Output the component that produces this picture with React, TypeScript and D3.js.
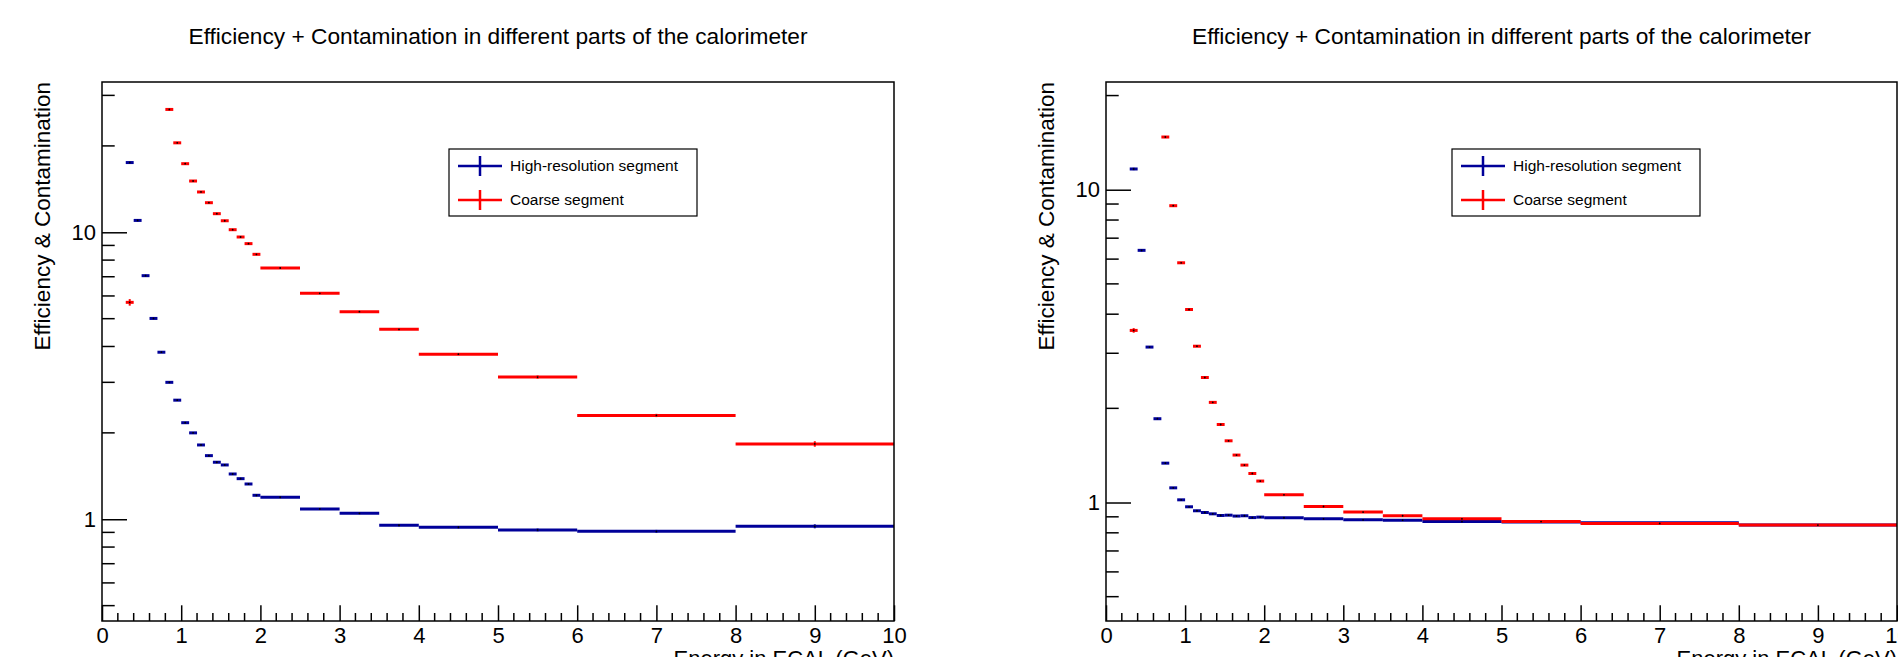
import * as d3 from "d3";
import React, { useEffect, useRef } from "react";

// bin edges shared by every histogram (GeV)
const binEdges = [
  0.3, 0.4, 0.5, 0.6, 0.7, 0.8, 0.9, 1.0, 1.1, 1.2, 1.3, 1.4, 1.5, 1.6, 1.7,
  1.8, 1.9, 2.0, 2.5, 3.0, 3.5, 4.0, 5.0, 6.0, 8.0, 10.0,
];
const xTickValues = [0, 1, 2, 3, 4, 5, 6, 7, 8, 9, 10];
const yTickValues = [1, 10];

// left canvas
const leftHighRes = [
  17.5, 11.0, 7.06, 5.01, 3.82, 3.0, 2.6, 2.17, 2.0, 1.815, 1.666, 1.58, 1.546,
  1.438, 1.385, 1.327, 1.212, 1.193, 1.086, 1.049, 0.953, 0.938, 0.918, 0.908,
  0.945,
];
const leftHighResErr = [
  0.15, 0.08, 0.05, 0.03, 0.02, 0.015, 0.012, 0.01, 0.01, 0.009, 0.008, 0.008,
  0.008, 0.008, 0.008, 0.008, 0.008, 0.006, 0.006, 0.007, 0.008, 0.008, 0.01,
  0.01, 0.015,
];
const leftCoarse = [
  5.7, null, null, null, null, 26.8, 20.5, 17.34, 15.09, 13.82, 12.68, 11.61,
  10.97, 10.21, 9.63, 9.13, 8.38, 7.51, 6.13, 5.29, 4.59, 3.76, 3.13, 2.3, 1.83,
];
const leftCoarseErr = [
  0.15, null, null, null, null, 0.2, 0.15, 0.12, 0.1, 0.09, 0.08, 0.07, 0.07,
  0.06, 0.06, 0.05, 0.05, 0.03, 0.03, 0.03, 0.03, 0.03, 0.04, 0.03, 0.04,
];

// right canvas
const rightHighRes = [
  11.65, 6.4, 3.14, 1.853, 1.336, 1.114, 1.02, 0.969, 0.941, 0.929, 0.92, 0.909,
  0.911, 0.905, 0.907, 0.895, 0.898, 0.894, 0.887, 0.88, 0.878, 0.869, 0.866,
  0.861, 0.847,
];
const rightHighResErr = [
  0.1, 0.05, 0.02, 0.01, 0.008, 0.006, 0.005, 0.004, 0.004, 0.004, 0.004,
  0.004, 0.004, 0.004, 0.004, 0.004, 0.004, 0.003, 0.003, 0.003, 0.003, 0.003,
  0.004, 0.004, 0.005,
];
const rightCoarse = [
  3.55, null, null, null, 14.74, 8.89, 5.84, 4.14, 3.16, 2.51, 2.09, 1.776,
  1.575, 1.418, 1.317, 1.238, 1.171, 1.058, 0.971, 0.932, 0.907, 0.887, 0.869,
  0.857, 0.847,
];
const rightCoarseErr = [
  0.06, null, null, null, 0.12, 0.06, 0.04, 0.03, 0.02, 0.015, 0.012, 0.01,
  0.008, 0.008, 0.007, 0.007, 0.006, 0.004, 0.004, 0.004, 0.004, 0.004, 0.004,
  0.004, 0.005,
];

const titleText = "Efficiency + Contamination in different parts of the calorimeter";
const xTitle = "Energy in ECAL (GeV)";
const yTitle = "Efficiency & Contamination";
const legendLabels = ["High-resolution segment", "Coarse segment"];

const BLUE = "#000099";
const RED = "#ff0000";
const FONT = "'Liberation Sans', Arial, Helvetica, sans-serif";

const drawPanel = (svg, { left, right, top, bottom, yDomain, series, legendX }) => {
  const x = d3.scaleLinear().domain([0, 10]).range([left, right]);
  const y = d3.scaleLog().domain(yDomain).range([bottom, top]);
  const g = svg.append("g");

  // title
  g.append("text")
    .attr("x", (left + right) / 2)
    .attr("y", 44)
    .attr("text-anchor", "middle")
    .attr("font-family", FONT)
    .attr("font-size", 22.7)
    .text(titleText);

  // x axis, ticks pointing inward like ROOT
  const xAxis = g
    .append("g")
    .attr("transform", `translate(0,${bottom})`)
    .call(
      d3
        .axisBottom(x)
        .tickValues(xTickValues)
        .tickSize(-15.7)
        .tickSizeOuter(0)
        .tickPadding(6.7)
        .tickFormat(d3.format("d"))
    );
  xAxis.select(".domain").remove();
  xAxis.attr("font-size", 22).attr("font-family", FONT);
  xAxis.selectAll("line").attr("stroke", "#000").attr("stroke-width", 1.5);
  xAxis.selectAll("text").attr("fill", "#000");

  const xMinor = d3
    .range(1, 50)
    .map((i) => i * 0.2)
    .filter((v) => Math.abs(v - Math.round(v)) > 1e-6);
  g.selectAll(null)
    .data(xMinor)
    .join("line")
    .attr("x1", (d) => x(d))
    .attr("x2", (d) => x(d))
    .attr("y1", bottom)
    .attr("y2", bottom - 8)
    .attr("stroke", "#000")
    .attr("stroke-width", 1.5);

  // y axis (log)
  const yAxis = g
    .append("g")
    .attr("transform", `translate(${left},0)`)
    .call(
      d3
        .axisLeft(y)
        .tickValues(yTickValues)
        .tickSize(-25)
        .tickSizeOuter(0)
        .tickPadding(6)
        .tickFormat(d3.format("d"))
    );
  yAxis.select(".domain").remove();
  yAxis.attr("font-size", 22).attr("font-family", FONT);
  yAxis.selectAll("line").attr("stroke", "#000").attr("stroke-width", 1.5);
  yAxis.selectAll("text").attr("fill", "#000");

  const yMinor = [];
  [0.1, 1, 10].forEach((dec) => {
    for (let k = 2; k <= 9; k++) {
      const v = k * dec;
      if (v >= yDomain[0] && v <= yDomain[1]) yMinor.push(v);
    }
  });
  g.selectAll(null)
    .data(yMinor)
    .join("line")
    .attr("x1", left)
    .attr("x2", left + 12.7)
    .attr("y1", (d) => y(d))
    .attr("y2", (d) => y(d))
    .attr("stroke", "#000")
    .attr("stroke-width", 1.5);

  // axis titles
  g.append("text")
    .attr("x", right)
    .attr("y", 666)
    .attr("text-anchor", "end")
    .attr("font-family", FONT)
    .attr("font-size", 22)
    .text(xTitle);

  g.append("text")
    .attr("transform", `translate(${left - 52},${top}) rotate(-90)`)
    .attr("text-anchor", "end")
    .attr("font-family", FONT)
    .attr("font-size", 22.5)
    .text(yTitle);

  // histograms drawn as error bars
  series.forEach((s) => {
    const bins = s.values
      .map((v, i) => ({
        v,
        e: s.errors[i] || 0,
        lo: binEdges[i],
        hi: binEdges[i + 1],
      }))
      .filter((d) => d.v != null);
    const sg = g.append("g");
    sg.selectAll(null)
      .data(bins)
      .join("line")
      .attr("x1", (d) => x(d.lo))
      .attr("x2", (d) => x(d.hi))
      .attr("y1", (d) => y(d.v))
      .attr("y2", (d) => y(d.v))
      .attr("stroke", s.color)
      .attr("stroke-width", 3);
    sg.selectAll(null)
      .data(bins)
      .join("line")
      .attr("x1", (d) => x((d.lo + d.hi) / 2))
      .attr("x2", (d) => x((d.lo + d.hi) / 2))
      .attr("y1", (d) => y(d.v - d.e))
      .attr("y2", (d) => y(d.v + d.e))
      .attr("stroke", s.color)
      .attr("stroke-width", 2);
    sg.selectAll(null)
      .data(bins)
      .join("circle")
      .attr("cx", (d) => x((d.lo + d.hi) / 2))
      .attr("cy", (d) => y(d.v))
      .attr("r", 0.9)
      .attr("fill", "#000");
  });

  // frame on top
  g.append("rect")
    .attr("x", left)
    .attr("y", top)
    .attr("width", right - left)
    .attr("height", bottom - top)
    .attr("fill", "none")
    .attr("stroke", "#000")
    .attr("stroke-width", 1.5);

  // legend
  const lg = g.append("g").attr("transform", `translate(${legendX},149)`);
  lg.append("rect")
    .attr("width", 248)
    .attr("height", 67)
    .attr("fill", "#fff")
    .attr("stroke", "#000")
    .attr("stroke-width", 1.2);
  series.forEach((s, i) => {
    const cy = 17 + i * 34;
    lg.append("line")
      .attr("x1", 9)
      .attr("x2", 53)
      .attr("y1", cy)
      .attr("y2", cy)
      .attr("stroke", s.color)
      .attr("stroke-width", 2.5);
    lg.append("line")
      .attr("x1", 31)
      .attr("x2", 31)
      .attr("y1", cy - 10)
      .attr("y2", cy + 10)
      .attr("stroke", s.color)
      .attr("stroke-width", 2.5);
    lg.append("text")
      .attr("x", 61)
      .attr("y", cy)
      .attr("dy", "0.35em")
      .attr("font-family", FONT)
      .attr("font-size", 15.5)
      .text(legendLabels[i]);
  });
};

const App = () => {
  const svgRef = useRef(null);

  useEffect(() => {
    const svg = d3.select(svgRef.current);
    svg.selectAll("*").remove();

    svg.append("rect").attr("width", 1898).attr("height", 657).attr("fill", "#fff");

    drawPanel(svg, {
      left: 102,
      right: 894,
      top: 82,
      bottom: 621,
      yDomain: [0.442, 33.4],
      legendX: 449,
      series: [
        { values: leftHighRes, errors: leftHighResErr, color: BLUE },
        { values: leftCoarse, errors: leftCoarseErr, color: RED },
      ],
    });

    drawPanel(svg, {
      left: 1106,
      right: 1897,
      top: 82,
      bottom: 621,
      yDomain: [0.418, 22.1],
      legendX: 1452,
      series: [
        { values: rightHighRes, errors: rightHighResErr, color: BLUE },
        { values: rightCoarse, errors: rightCoarseErr, color: RED },
      ],
    });
  }, []);

  return (
    <svg
      ref={svgRef}
      width={1898}
      height={657}
      style={{ position: "absolute", left: 0, top: 0, display: "block" }}
    ></svg>
  );
};

export default App;
